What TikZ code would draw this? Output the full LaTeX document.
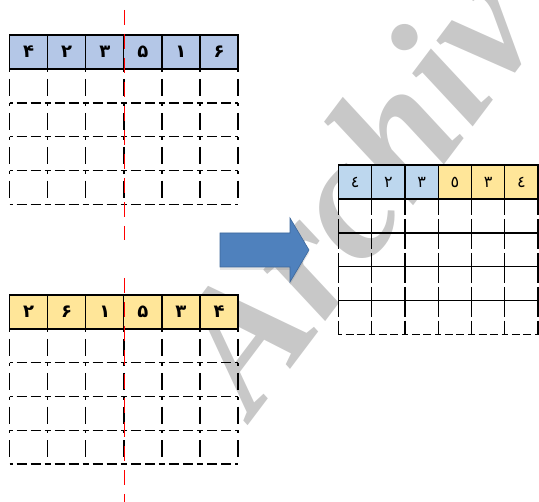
\documentclass[tikz,border=0pt]{standalone}
\usepackage{fontspec}
\newfontfamily\digitfont[Script=Arabic]{DejaVu Sans}
\newfontfamily\markfont{Liberation Serif}
\usetikzlibrary{calc,shadows}

\definecolor{hdblue}{HTML}{B4C7E7}
\definecolor{hdblueB}{HTML}{BDD7EE}
\definecolor{hdyellow}{HTML}{FFE699}
\definecolor{arrowblue}{HTML}{4F81BD}
\definecolor{arrowline}{HTML}{3C679A}
\definecolor{markgray}{HTML}{C8C8C8}

\begin{document}
\begin{tikzpicture}[
    x=1pt, y=-1pt,
    hd/.style={rectangle, draw=black, line width=1.3pt, inner sep=0pt,
        minimum width=38.1pt, minimum height=34pt,
        font=\digitfont\bfseries\fontsize{18}{18}\selectfont},
    hdsmall/.style={hd, minimum width=33.25pt,
        font=\digitfont\fontsize{16}{16}\selectfont},
    hdash/.style={line width=1.4pt,
        dash pattern=on 3pt off 4pt on 10pt off 4pt on 10pt off 4pt},
    vdash/.style={line width=1.4pt,
        dash pattern=on 3pt off 7pt on 17pt off 7pt},
    rdash/.style={line width=1.4pt,
        dash pattern=on 3pt off 4pt on 8pt off 3pt on 8pt off 4pt},
    rvdash/.style={line width=1.4pt, dash pattern=on 16pt off 4pt},
    solid line/.style={line width=1.4pt},
    cut/.style={red, line width=0.9pt, dash pattern=on 15pt off 9pt},
    bigarrow/.style={fill=arrowblue, draw=arrowline, line width=0.6pt,
        drop shadow={opacity=0.2, shadow xshift=0pt, shadow yshift=-3pt}},
]
    \useasboundingbox (0,0) rectangle (539,502);

    % Watermark
    \begin{scope}
        \clip (0,0) rectangle (539,502);
        \node[markgray, rotate=53, inner sep=0pt,
            font=\markfont\bfseries\itshape\fontsize{175}{175}\selectfont]
            (mark) at (352,188) {Archiv};
    \end{scope}

    % Upper grid
    \foreach \d [count=\i] in {۴,۲,۳,۵,۱,۶}
        \node[hd, fill=hdblue] (t\i) at ({9.5+38.1*(\i-0.5)},52) {\d};
    \foreach \r in {1,...,4}
        \foreach \c in {0,...,6}
            \draw[vdash] ({9.5+38.1*\c},{69+33.9*(\r-1)}) -- ++(0,33.9);
    \foreach \r in {1,...,4}
        \foreach \c in {1,...,6}
            \draw[hdash] ({9.5+38.1*(\c-1)},{69+33.9*\r}) -- ++(38.1,0);

    % Lower grid
    \foreach \d [count=\i] in {۲,۶,۱,۵,۳,۴}
        \node[hd, fill=hdyellow] (b\i) at ({9.5+38.1*(\i-0.5)},312) {\d};
    \foreach \r in {1,...,4}
        \foreach \c in {0,...,6}
            \draw[vdash] ({9.5+38.1*\c},{329+33.8*(\r-1)}) -- ++(0,33.8);
    \foreach \r in {1,...,4}
        \foreach \c in {1,...,6}
            \draw[hdash] ({9.5+38.1*(\c-1)},{329+33.8*\r}) -- ++(38.1,0);

    % Cut lines
    \coordinate (cutA1) at (124,10);
    \coordinate (cutA2) at (124,240);
    \coordinate (cutB1) at (124,278);
    \coordinate (cutB2) at (124,502);
    \draw[cut] (cutA1) -- (cutA2);
    \draw[cut] (cutB1) -- (cutB2);

    % Result grid
    \foreach \d [count=\i] in {٤,٢,٣}
        \node[hdsmall, fill=hdblueB] (r\i) at ({338.5+33.25*(\i-0.5)},182) {\d};
    \foreach \d [count=\i from 4] in {٥,٣,٤}
        \node[hdsmall, fill=hdyellow] (r\i) at ({338.5+33.25*(\i-0.5)},182) {\d};
    \foreach \r in {1,...,4}
        \foreach \c in {0,...,6}
            \draw[rvdash] ({338.5+33.25*\c},{199+33.9*(\r-1)}) -- ++(0,33.9);
    \foreach \r in {1,...,3}
        \draw[solid line] (338.5,{199+33.9*\r}) -- (538,{199+33.9*\r});
    \foreach \c in {1,...,6}
        \draw[rdash] ({338.5+33.25*(\c-1)},334.6) -- ++(33.25,0);

    % Arrow
    \draw[bigarrow] (220,233) -- (290,233) -- (290,218) -- (309,250)
        -- (290,282) -- (290,267) -- (220,267) -- cycle;
\end{tikzpicture}
\end{document}
